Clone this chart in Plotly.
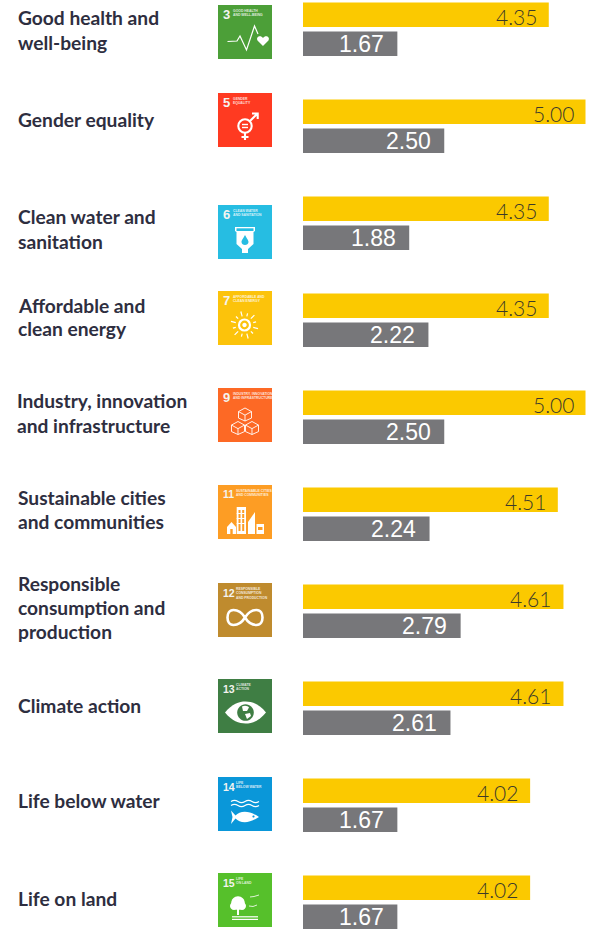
import re
import math
import plotly.graph_objects as go

W, H = 594, 929

labels = ["Good health and<br>well-being", "Gender equality", "Clean water and<br>sanitation",
          "Affordable and<br>clean energy", "Industry, innovation<br>and infrastructure",
          "Sustainable cities<br>and communities", "Responsible<br>consumption and<br>production",
          "Climate action", "Life below water", "Life on land"]
yellow_values = [4.35, 5.00, 4.35, 4.35, 5.00, 4.51, 4.61, 4.61, 4.02, 4.02]
grey_values = [1.67, 2.50, 1.88, 2.22, 2.50, 2.24, 2.79, 2.61, 1.67, 1.67]
goal_numbers = ["3", "5", "6", "7", "9", "11", "12", "13", "14", "15"]
goal_captions = ["GOOD HEALTH<br>AND WELL-BEING", "GENDER<br>EQUALITY", "CLEAN WATER<br>AND SANITATION",
                 "AFFORDABLE AND<br>CLEAN ENERGY", "INDUSTRY, INNOVATION<br>AND INFRASTRUCTURE",
                 "SUSTAINABLE CITIES<br>AND COMMUNITIES", "RESPONSIBLE<br>CONSUMPTION<br>AND PRODUCTION",
                 "CLIMATE<br>ACTION", "LIFE<br>BELOW WATER", "LIFE<br>ON LAND"]
goal_colors = ["#4C9F38", "#FF3A21", "#26BDE2", "#FCC30B", "#FD6925",
               "#FD9D24", "#BF8B2E", "#3F7E44", "#0A97D9", "#56C02B"]

# layout constants (pixels)
icon_tops = [5, 93, 205, 291, 388, 485, 583, 679, 777, 873]
label_centers = [30, 119, 229, 317, 413, 509, 607, 705, 800, 898]
label_lefts = [17, 17, 17, 17, 16, 17, 17, 17, 17, 17]
LINE_H = 24
ICON_X, ICON_S = 218, 54
X0, PX_PER_UNIT = 303, 56.5
ROW0, ROW = 29.25, 97

YELLOW, GREY, TEXT = "#FBC900", "#77777A", "#2E2E40"


def circle(cx, cy, r):
    k = 0.5523 * r
    return (f"M{cx-r} {cy} C{cx-r} {cy-k} {cx-k} {cy-r} {cx} {cy-r} "
            f"C{cx+k} {cy-r} {cx+r} {cy-k} {cx+r} {cy} "
            f"C{cx+r} {cy+k} {cx+k} {cy+r} {cx} {cy+r} "
            f"C{cx-k} {cy+r} {cx-r} {cy+k} {cx-r} {cy} Z")


def rect(x0, y0, x1, y1):
    return f"M{x0} {y0} L{x1} {y0} L{x1} {y1} L{x0} {y1} Z"


def wave(x0, x1, y, n=4, a=1.1):
    step = (x1 - x0) / n
    out = f"M{x0} {y} "
    for j in range(n):
        xa = x0 + j * step
        s = a if j % 2 == 0 else -a
        out += f"Q{xa+step/2} {y-2*s} {xa+step} {y} "
    return out


def sun_rays():
    items = []
    for j in range(12):
        t = j * math.pi / 6 + 0.26
        r0, r1 = (9.0, 14.0) if j % 2 == 0 else (9.0, 12.0)
        items.append((f"M{26.5+r0*math.cos(t):.2f} {34+r0*math.sin(t):.2f} "
                      f"L{26.5+r1*math.cos(t):.2f} {34+r1*math.sin(t):.2f}", None, 1.2))
    return items


def cube(cx, cy, s):
    h = s * 0.55
    return [(f"M{cx} {cy-s} L{cx+s} {cy-s+h} L{cx+s} {cy+h} L{cx} {cy+s} L{cx-s} {cy+h} "
             f"L{cx-s} {cy-s+h} Z M{cx-s} {cy-s+h} L{cx} {cy-s+2*h} L{cx+s} {cy-s+h} "
             f"M{cx} {cy-s+2*h} L{cx} {cy+s}", None, 0.9)]


# each pictogram: (path in icon-local pixels, fill or None, stroke width)
WHITE = "#FFFFFF"
pictograms = [
    [("M9.5 36.5 L19 36 L22 31 L28.5 45 L36.5 21 L40 29", None, 1.2),
     ("M45 41 L39.5 35.5 C37.5 32 42.5 29.5 45 33 C47.5 29.5 52.5 32 50.5 35.5 Z", WHITE, 0)],
    [(circle(27, 33, 6.7), None, 2.1),
     ("M27 40 L27 47 M23.5 44 L30.5 44 M32 28 L39 21 M34 20.5 L39.7 20.5 L39.7 26", None, 2.1),
     (rect(24, 30.8, 30, 32.2), WHITE, 0), (rect(24, 33.8, 30, 35.2), WHITE, 0)],
    [("M17 22 L37 22 L37 26 L35.5 27 L35.5 39 L30 44 L30 48 L24 48 L24 44 L18.5 39 L18.5 27 L17 26 Z", WHITE, 0),
     (rect(18.5, 23.3, 35.5, 26), "#26BDE2", 0),
     ("M27 30 C29 34 30.5 35 30.5 37 C30.5 41 23.5 41 23.5 37 C23.5 35 25 34 27 30 Z", "#26BDE2", 0)],
    sun_rays() + [(circle(26.5, 34, 5.5), None, 2.2), (circle(26.5, 34, 2.2), WHITE, 0)],
    cube(27, 26.5, 6.5) + cube(20, 40, 6.5) + cube(34, 40, 6.5),
    [(rect(18.7, 22, 28, 49), WHITE, 0), (rect(20.5, 25, 22.5, 46), "#FD9D24", 0), (rect(24.2, 25, 26.2, 46), "#FD9D24", 0),
     (rect(18.7, 28, 28, 29), WHITE, 0), (rect(18.7, 33, 28, 34), WHITE, 0), (rect(18.7, 38, 28, 39), WHITE, 0),
     ("M30 49 L30 37 L37 27 L37 49 Z", WHITE, 0),
     (rect(38.5, 39, 46, 49), WHITE, 0), (rect(40, 42, 44.5, 45), "#FD9D24", 0),
     ("M9 49 L9 42 L13.5 37 L18 42 L18 49 Z", WHITE, 0), (rect(12.3, 44, 14.7, 49), "#FD9D24", 0)],
    [("M27 34.5 C23 28 19 27 15.5 27 C11 27 9.5 31 9.5 34.5 C9.5 38 11 42 15.5 42 C19 42 23 41 27 34.5 "
      "C31 28 35 27 38.5 27 C43 27 44.5 31 44.5 34.5 C44.5 38 43 42 38.5 42 C35 42 31 41 27 34.5 Z", None, 2.6)],
    [("M7 33.5 C14 25 21 22.5 27.5 22.5 C34 22.5 41 25 48 33.5 C41 42 34 44.5 27.5 44.5 C21 44.5 14 42 7 33.5 Z", WHITE, 0),
     (circle(27.5, 33.5, 8.3), "#3F7E44", 0),
     ("M24 27.5 C27 26 30 27 31 28.5 L29 32 L25 32 Z", WHITE, 0),
     ("M27 35 L32 34 L33 37 L29 40 Z", WHITE, 0)],
    [(wave(13, 41, 24.5), None, 1.2), (wave(13, 41, 28.5), None, 1.2),
     ("M13 33.5 L17.5 38.5 C22 34 30 32.5 41 40 C30 47.5 22 46 17.5 41.5 L13 47 L14.5 40 Z", WHITE, 0),
     (circle(35.5, 39.5, 1.1), "#0A97D9", 0)],
    [(circle(20, 30, 6.8), WHITE, 0), (circle(16, 33, 4), WHITE, 0), (circle(24, 33, 4), WHITE, 0),
     (rect(19, 36, 21, 42), WHITE, 0),
     (rect(14, 43.2, 40, 44.4), WHITE, 0), (rect(14, 45.8, 40, 47), WHITE, 0),
     ("M32 24 L36 23.5 L41 22", None, 0.8), ("M31 33 L35 33.5 L39 32", None, 0.8)],
]


def px_to_paper(path, ox, oy):
    nums = iter(re.findall(r"[A-Za-z]|-?\d+\.?\d*", path))
    out = []
    is_x = True
    for tok in nums:
        if tok.isalpha():
            out.append(tok)
            is_x = True
        else:
            v = float(tok)
            out.append(f"{(ox+v)/W:.5f}" if is_x else f"{1-(oy+v)/H:.5f}")
            is_x = not is_x
    return " ".join(out)


fig = go.Figure()
fig.add_bar(y=labels, x=yellow_values, orientation="h", marker=dict(color=YELLOW, line_width=0), name="Yellow")
fig.add_bar(y=labels, x=grey_values, orientation="h", marker=dict(color=GREY, line_width=0), name="Grey")

annotations = []
shapes = []
for i, lab in enumerate(labels):
    lines = lab.split("<br>")
    for j, line in enumerate(lines):
        cy = label_centers[i] + (j - (len(lines) - 1) / 2) * LINE_H
        annotations.append(dict(xref="paper", yref="paper", x=label_lefts[i] / W, y=1 - cy / H,
                                text=line, showarrow=False, xanchor="left", yanchor="middle", align="left",
                                borderpad=0, font=dict(family="Lato", size=19.2, color=TEXT, weight=700)))
    annotations.append(dict(x=yellow_values[i], y=lab, text=f"{yellow_values[i]:.2f}", showarrow=False,
                            xanchor="right", yanchor="middle", xshift=-11, yshift=12.5, borderpad=0,
                            font=dict(family="Lato", size=21, color="#3C3A2A", weight=300)))
    annotations.append(dict(x=grey_values[i], y=lab, text=f"{grey_values[i]:.2f}", showarrow=False,
                            xanchor="right", yanchor="middle", xshift=-12.5, yshift=-14.5, borderpad=0,
                            font=dict(family="Liberation Sans", size=23, color="#FFFFFF")))

    top = icon_tops[i]
    two_digit = len(goal_numbers[i]) == 2
    shapes.append(dict(type="rect", xref="paper", yref="paper", x0=ICON_X / W, x1=(ICON_X + ICON_S) / W,
                       y0=1 - (top + ICON_S) / H, y1=1 - top / H, fillcolor=goal_colors[i], line_width=0, layer="above"))
    for path, fill, lw in pictograms[i]:
        s = dict(type="path", xref="paper", yref="paper", path=px_to_paper(path, ICON_X, top), layer="above")
        if fill:
            s.update(fillcolor=fill, line_width=0)
        else:
            s.update(line=dict(color=WHITE, width=lw))
        shapes.append(s)
    annotations.append(dict(xref="paper", yref="paper", x=(ICON_X + 3.5) / W, y=1 - (top + 9.5) / H,
                            text=goal_numbers[i], showarrow=False, xanchor="left", yanchor="middle", borderpad=0,
                            font=dict(family="Liberation Sans", size=10.5 if two_digit else 13,
                                      color="#F4F4F0", weight=700)))
    annotations.append(dict(xref="paper", yref="paper", x=(ICON_X + (17 if two_digit else 14)) / W,
                            y=1 - (top + 3) / H, text=goal_captions[i], showarrow=False,
                            xanchor="left", yanchor="top", align="left", borderpad=0, opacity=0.8,
                            font=dict(family="Liberation Sans", size=3.4, color="#FFFFFF", weight=700)))

fig.update_layout(
    width=W, height=H, autosize=False,
    margin=dict(l=0, r=0, t=0, b=0),
    paper_bgcolor="#FFFFFF", plot_bgcolor="#FFFFFF",
    barmode="group", bargap=0.4, bargroupgap=0.1615,
    showlegend=False,
    annotations=annotations, shapes=shapes,
    xaxis=dict(domain=[X0 / W, 1], range=[0, (W - X0) / PX_PER_UNIT], visible=False),
    yaxis=dict(domain=[0, 1], range=[(H - ROW0) / ROW, -ROW0 / ROW], visible=False,
               type="category", categoryorder="array", categoryarray=labels),
)
fig.write_html("out.html", config=dict(displayModeBar=False),
               post_script="document.body.style.margin='0';document.documentElement.style.overflow='hidden';")
